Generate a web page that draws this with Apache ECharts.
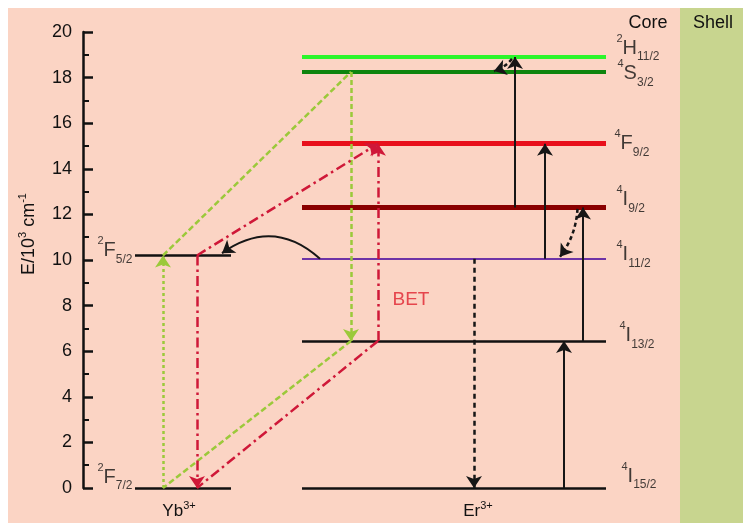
<!DOCTYPE html>
<html><head><meta charset="utf-8">
<script src="https://cdn.jsdelivr.net/npm/echarts@6/dist/echarts.min.js"></script>
<style>html,body{margin:0;padding:0;background:#fff}#c{width:743px;height:523px}</style>
</head><body><div id="c"></div>
<script>
const FONT = '"Liberation Sans", Arial, sans-serif';

// ---- data ----
// energy axis (10^3 cm^-1)
const yMin = 0, yMax = 20, yStep = 2;
// horizontal layout units of the diagram
const xMin = 0, xMax = 59.7;

// Yb3+ levels
const ybTerms = [['2', 'F', '5/2'], ['2', 'F', '7/2']];
const ybEnergy = [10.2, 0];
const ybSpan = [5.2, 14.8];

// Er3+ levels
const erTerms = [['2', 'H', '11/2'], ['4', 'S', '3/2'], ['4', 'F', '9/2'], ['4', 'I', '9/2'], ['4', 'I', '11/2'], ['4', 'I', '13/2'], ['4', 'I', '15/2']];
const erEnergy = [18.9, 18.25, 15.1, 12.3, 10.05, 6.45, 0];
const erSpan = [21.9, 52.3];

// transitions: [x1, E1, x2, E2]
const greenUp = [[8.0, 0, 8.0, 10.2]];
const greenET = [[8.0, 10.2, 26.8, 18.25], [26.8, 6.45, 8.0, 0]];
const greenDown = [[26.8, 18.25, 26.8, 6.45]];
const redBET = [[11.4, 10.2, 11.4, 0], [11.4, 10.2, 29.5, 15.1], [29.5, 6.45, 29.5, 15.1]];
const redBETnoHead = [[29.5, 6.45, 11.4, 0]];
const erUp = [[48.1, 0, 48.1, 6.45], [50.0, 6.45, 50.0, 12.3], [46.2, 10.05, 46.2, 15.1], [43.2, 12.3, 43.2, 18.9]];
const erDecay = [[39.1, 10.05, 39.1, 0]];
const erRelax = [[42.9, 18.82, 41.1, 18.29], [49.45, 12.24, 47.7, 10.14]];
const erToYb = [[23.7, 10.05, 13.9, 10.3]];
const betPos = [32.8, 8.25];

// ---- styles ----
const erColors = ['#2BF52B', '#0E840E', '#E8101C', '#8A0000', '#6E33A6', '#111', '#111'];
const erWidths = [4, 4, 5, 5, 2, 2.5, 2.5];
const erLabelDx = [0, 1, -2, 0, 0, 3, 5];
const erLabelDy = [-9, 2, 0, -8, -4, -5, -12];
const ybLabelDy = [-5, -11];
const GREEN = '#9BC93A', RED = '#CF1838', BLACK = '#161616';

const rich = {
  p: { fontSize: 11, lineHeight: 23, verticalAlign: 'top', fontFamily: FONT, color: '#111' },
  m: { fontSize: 20, lineHeight: 30, fontFamily: FONT, color: '#111' },
  b: { fontSize: 12, lineHeight: 10, verticalAlign: 'bottom', fontFamily: FONT, color: '#111' }
};
const term = t => `{p|${t[0]}}{m|${t[1]}}{b|${t[2]}}`;
const seg = a => ({ coords: [[a[0], a[1]], [a[2], a[3]]] });

function lines(arr, style, head) {
  return {
    type: 'lines', coordinateSystem: 'cartesian2d', polyline: false, silent: true, clip: false,
    symbol: head ? ['none', 'arrow'] : ['none', 'none'], symbolSize: 12, symbolOffset: [0, 5],
    lineStyle: Object.assign({ opacity: 1, curveness: 0 }, style),
    data: arr.map(seg), z: 3
  };
}

const chart = echarts.init(document.getElementById('c'), null, { renderer: 'canvas' });
const subRich = { m: { fontSize: 17, fontFamily: FONT, fill: '#111', lineHeight: 22 }, s: { fontSize: 11, fontFamily: FONT, fill: '#111', lineHeight: 16, verticalAlign: 'top' } };
chart.setOption({
  animation: false,
  backgroundColor: '#ffffff',
  graphic: [
    { type: 'rect', shape: { x: 8, y: 8, width: 672, height: 515 }, style: { fill: '#FBD4C4' }, z: -10 },
    { type: 'rect', shape: { x: 680, y: 8, width: 63, height: 515 }, style: { fill: '#C8D58F' }, z: -10 },
    { type: 'text', x: 648, y: 23, style: { text: 'Core', font: '18px ' + FONT, fill: '#111', align: 'center', verticalAlign: 'middle' } },
    { type: 'text', x: 713, y: 23, style: { text: 'Shell', font: '18px ' + FONT, fill: '#111', align: 'center', verticalAlign: 'middle' } },
    { type: 'text', x: 179, y: 511, style: { text: '{m|Yb}{s|3+}', rich: subRich, align: 'center', verticalAlign: 'middle' } },
    { type: 'text', x: 478, y: 511, style: { text: '{m|Er}{s|3+}', rich: subRich, align: 'center', verticalAlign: 'middle' } }
  ],
  grid: { left: 83, right: 63, top: 32, bottom: 35, containLabel: false },
  xAxis: { type: 'value', min: xMin, max: xMax, show: false },
  yAxis: {
    type: 'value', min: yMin, max: yMax, interval: yStep,
    name: '{a|E/10}{s|3}{a| cm}{s|-1}', nameLocation: 'middle', nameGap: 42, nameRotate: 90,
    nameTextStyle: {
      padding: [0, 0, 0, 52],
      rich: {
        a: { fontSize: 18, fontFamily: FONT, color: '#111', lineHeight: 24 },
        s: { fontSize: 11, fontFamily: FONT, color: '#111', lineHeight: 17, verticalAlign: 'top' }
      }
    },
    axisLine: { show: true, lineStyle: { color: '#111', width: 2.5 } },
    axisTick: { show: true, inside: true, length: 10, lineStyle: { color: '#111', width: 2.5 } },
    minorTick: { show: true, splitNumber: 2, length: 6, lineStyle: { color: '#111', width: 2 } },
    axisLabel: { fontSize: 18, fontFamily: FONT, color: '#111', margin: 11 },
    splitLine: { show: false }
  },
  series: [
    // levels
    {
      type: 'lines', coordinateSystem: 'cartesian2d', silent: true, clip: false, z: 2,
      lineStyle: { color: '#111', width: 2.5, opacity: 1 },
      data: ybEnergy.map(e => ({ coords: [[ybSpan[0], e], [ybSpan[1], e]] }))
    },
    {
      type: 'lines', coordinateSystem: 'cartesian2d', silent: true, clip: false, z: 2,
      data: erEnergy.map((e, i) => ({ coords: [[erSpan[0], e], [erSpan[1], e]], lineStyle: { color: erColors[i], width: erWidths[i], opacity: 1 } }))
    },
    // energy transfer Yb -> Er (green)
    lines(greenUp, { color: GREEN, width: 2.5, type: [3, 3] }, true),
    lines(greenET, { color: GREEN, width: 2.5, type: [6, 3] }, false),
    lines(greenDown, { color: GREEN, width: 2.5, type: [5, 3] }, true),
    // back energy transfer (red)
    lines(redBET, { color: RED, width: 2.5, type: [10, 4, 2.5, 4] }, true),
    lines(redBETnoHead, { color: RED, width: 2.5, type: [10, 4, 2.5, 4] }, false),
    // Er transitions (black)
    lines(erUp, { color: BLACK, width: 2 }, true),
    lines(erDecay, { color: BLACK, width: 2.5, type: [5, 4] }, true),
    lines(erRelax, { color: BLACK, width: 2.5, type: [4, 3], curveness: 0.15 }, true),
    lines(erToYb, { color: BLACK, width: 2, curveness: -0.4 }, true),
    // level labels
    {
      type: 'scatter', symbolSize: 1, itemStyle: { color: 'rgba(0,0,0,0)' }, silent: true, z: 5,
      data: erEnergy.map((e, i) => ({
        value: [erSpan[1], e],
        label: { show: true, position: 'right', distance: 10, offset: [erLabelDx[i], erLabelDy[i]], formatter: term(erTerms[i]), rich: rich }
      }))
    },
    {
      type: 'scatter', symbolSize: 1, itemStyle: { color: 'rgba(0,0,0,0)' }, silent: true, z: 5,
      data: ybEnergy.map((e, i) => ({
        value: [ybSpan[0], e],
        label: { show: true, position: 'left', distance: 2, offset: [0, ybLabelDy[i]], formatter: term(ybTerms[i]), rich: rich }
      }))
    },
    {
      type: 'scatter', symbolSize: 1, itemStyle: { color: 'rgba(0,0,0,0)' }, silent: true, z: 5,
      data: [{ value: betPos, label: { show: true, position: 'inside', formatter: 'BET', color: '#E0202E', fontSize: 19, fontFamily: FONT } }]
    }
  ]
});
</script>
</body></html>
